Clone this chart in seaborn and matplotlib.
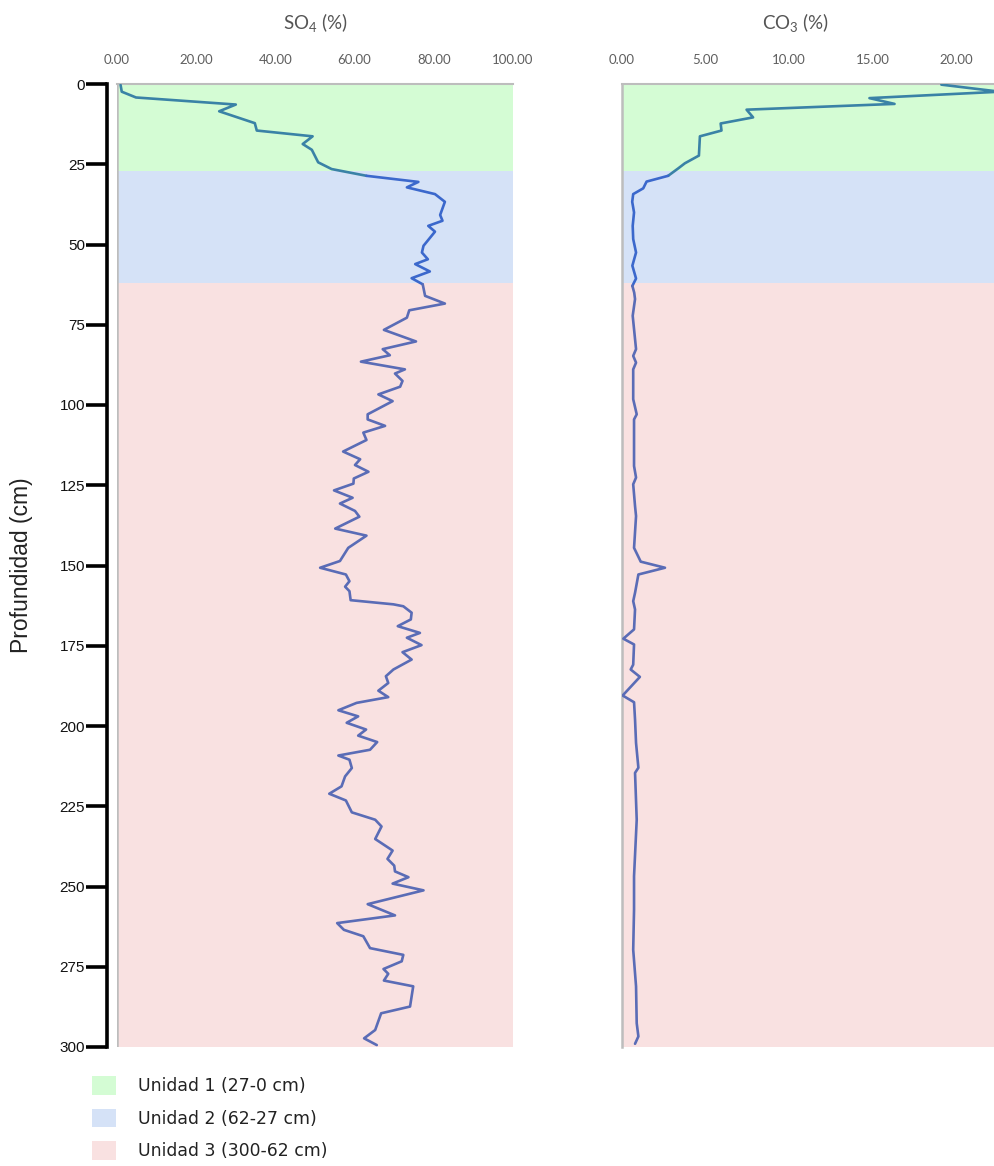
import numpy as np
import pandas as pd
import matplotlib
matplotlib.use("Agg")
import matplotlib.pyplot as plt
from matplotlib.patches import Patch
import seaborn as sns

# --- Sulfato (%) por profundidad (cm) ---
depth_so4 = [0.3, 2.4, 4.2, 6.4, 8.5, 12.2, 14.5, 16.3, 18.7, 20.5,
             24.4, 26.5, 28.6, 30.5, 32.2, 34.3, 36.7, 40.8, 42.6, 44.2,
             46.0, 50.4, 52.5, 54.6, 56.1, 58.4, 60.5, 62.4, 66.0, 68.4,
             70.5, 72.8, 76.6, 80.2, 82.6, 84.5, 86.5, 88.9, 90.2, 92.5,
             94.3, 96.7, 98.8, 102.9, 104.5, 106.5, 108.6, 110.9, 114.5, 116.9,
             118.7, 120.8, 122.9, 124.5, 126.6, 128.9, 130.7, 133.0, 134.8, 138.5,
             140.7, 144.5, 148.6, 150.7, 152.8, 154.9, 156.6, 158.0, 160.8, 162.1,
             162.7, 164.7, 166.8, 168.9, 171.0, 172.5, 174.8, 177.0, 179.3, 182.4,
             184.5, 186.6, 189.0, 191.0, 192.8, 195.1, 197.0, 199.0, 201.1, 203.0,
             205.0, 207.4, 209.2, 210.5, 213.1, 215.7, 218.8, 221.1, 223.2, 226.9,
             229.2, 231.3, 235.2, 238.8, 241.4, 243.5, 245.3, 247.1, 249.1, 251.2,
             255.5, 259.0, 261.4, 263.5, 265.5, 269.2, 271.3, 273.3, 275.7, 277.2,
             279.3, 281.1, 287.4, 289.5, 294.7, 297.3, 299.4]
so4 = [0.9, 1.2, 4.8, 30.0, 25.8, 34.8, 35.3, 49.4, 46.9, 49.2,
       50.8, 54.2, 63.0, 76.1, 73.2, 80.3, 82.8, 81.6, 82.2, 78.6,
       80.3, 77.4, 77.0, 78.5, 75.3, 79.0, 74.4, 77.2, 77.8, 82.8,
       73.8, 73.2, 67.4, 75.5, 67.1, 68.9, 61.6, 72.7, 70.2, 72.1,
       71.5, 66.0, 69.6, 63.3, 63.3, 67.7, 62.2, 63.0, 57.1, 61.4,
       60.1, 63.5, 59.8, 59.7, 54.8, 59.5, 56.3, 60.1, 61.2, 55.1,
       63.0, 58.4, 56.3, 51.3, 57.8, 58.7, 57.6, 58.7, 59.0, 69.8,
       72.3, 74.4, 74.2, 70.9, 76.5, 73.2, 76.9, 72.1, 74.4, 69.8,
       67.9, 68.5, 66.0, 68.5, 60.5, 55.9, 60.9, 58.0, 62.9, 60.9,
       65.7, 63.9, 55.9, 58.7, 59.3, 57.6, 56.7, 53.6, 57.8, 59.3,
       65.2, 66.8, 65.2, 69.6, 68.3, 70.0, 70.2, 73.6, 69.6, 77.4,
       63.3, 70.2, 55.6, 57.3, 62.2, 63.9, 72.3, 71.9, 67.3, 68.5,
       67.4, 74.8, 74.0, 66.7, 65.2, 62.4, 65.6]

# --- Carbonato (%) por profundidad (cm) ---
depth_co3 = [0.2, 2.4, 4.4, 6.2, 8.0, 10.4, 12.3, 14.5, 16.3, 22.3,
             24.7, 26.3, 28.6, 30.4, 32.5, 34.3, 36.7, 40.0, 44.2, 48.3,
             52.5, 56.6, 60.6, 62.9, 65.0, 67.0, 72.2, 82.6, 84.7, 86.8,
             88.9, 98.2, 102.9, 104.5, 119.0, 122.6, 124.7, 131.5, 134.6, 144.5,
             148.8, 150.7, 152.8, 158.5, 161.1, 163.7, 169.9, 172.8, 174.6, 180.9,
             182.4, 184.7, 190.5, 192.6, 198.0, 205.3, 213.0, 214.6, 229.2, 246.8,
             257.2, 269.7, 281.1, 292.6, 296.7, 299.0]
co3 = [19.1, 22.6, 14.8, 16.3, 7.45, 7.84, 5.9, 5.95, 4.66, 4.6,
       3.76, 3.36, 2.76, 1.47, 1.27, 0.67, 0.61, 0.72, 0.64, 0.67,
       0.84, 0.62, 0.84, 0.62, 0.73, 0.78, 0.64, 0.84, 0.67, 0.84,
       0.67, 0.67, 0.88, 0.72, 0.72, 0.84, 0.67, 0.78, 0.84, 0.72,
       1.12, 2.57, 0.98, 0.78, 0.67, 0.78, 0.72, 0.08, 0.72, 0.67,
       0.52, 1.07, 0.04, 0.72, 0.78, 0.84, 0.98, 0.78, 0.88, 0.72,
       0.72, 0.67, 0.84, 0.88, 0.98, 0.78]

# --- Unidades estratigráficas ---
unit_names = ["Unidad 1 (27-0 cm)", "Unidad 2 (62-27 cm)", "Unidad 3 (300-62 cm)"]
unit_tops = [0, 27, 62]
unit_bottoms = [27, 62, 300]
unit_fill = ["#d4fcd4", "#d5e2f7", "#f9e1e1"]
unit_line = ["#3a82a6", "#3b68cc", "#5a6cb6"]

so4_ticks = [0, 20, 40, 60, 80, 100]
co3_ticks = [0, 5, 10, 15, 20]
depth_ticks = list(range(0, 301, 25))


def unit_of(d):
    for i, (t, b) in enumerate(zip(unit_tops, unit_bottoms)):
        if t <= d < b:
            return i
    return len(unit_tops) - 1


def segments(depths, values):
    """Long table with one continuous piece per unit; each piece carries the
    first sample of the next unit so the profile stays connected."""
    u = [unit_of(d) for d in depths]
    rows = []
    for k in range(len(unit_names)):
        idx = [i for i, v in enumerate(u) if v == k]
        if not idx:
            continue
        if idx[-1] + 1 < len(depths):
            idx = idx + [idx[-1] + 1]
        for order, i in enumerate(idx):
            rows.append({"unidad": unit_names[k], "orden": order,
                         "prof": depths[i], "valor": values[i]})
    return pd.DataFrame(rows)


sns.set_theme(style="white")
plt.rcParams["font.family"] = ["Liberation Sans", "DejaVu Sans"]
plt.rcParams["mathtext.fontset"] = "custom"
plt.rcParams["mathtext.rm"] = "Lato"
plt.rcParams["mathtext.it"] = "Lato:italic"
plt.rcParams["mathtext.bf"] = "Lato:bold"

W, H = 995, 1166
fig = plt.figure(figsize=(W / 100, H / 100), dpi=100)
fig.patch.set_facecolor("white")

top_px, bot_px = 84, 1047
ax1 = fig.add_axes([117 / W, 1 - bot_px / H, 396 / W, (bot_px - top_px) / H])
ax2 = fig.add_axes([622 / W, 1 - bot_px / H, 418 / W, (bot_px - top_px) / H])

palette = dict(zip(unit_names, unit_line))
for ax, d, v, xmax, ticks in [(ax1, depth_so4, so4, 100, so4_ticks),
                              (ax2, depth_co3, co3, 25, co3_ticks)]:
    for t, b, c in zip(unit_tops, unit_bottoms, unit_fill):
        ax.axhspan(t, b, xmin=0, xmax=1, color=c, lw=0, zorder=0)
    df = segments(d, v)
    sns.lineplot(data=df, x="valor", y="prof", hue="unidad", units="unidad",
                 estimator=None, sort=False, orient="y", palette=palette,
                 linewidth=1.9, legend=False, ax=ax, zorder=3)
    ax.set_xlim(0, xmax)
    ax.set_ylim(300, 0)
    ax.set_xticks(ticks)
    ax.set_xticklabels([f"{t:.2f}" for t in ticks], family="Lato",
                       color="#5f5f5f", fontsize=9.5)
    ax.xaxis.tick_top()
    ax.tick_params(axis="x", length=0, pad=13)
    ax.set_xlabel("")
    ax.set_ylabel("")
    ax.set_facecolor("none")
    for s in ["right", "bottom"]:
        ax.spines[s].set_visible(False)
    ax.spines["top"].set_color("#bdbdbd")
    ax.spines["top"].set_linewidth(1.5)

# Depth axis on the first panel: thick black spine pushed outward
ax1.axvline(0, color="#bdbdbd", lw=1.8, zorder=4)
ax1.spines["left"].set_position(("outward", 7))
ax1.spines["left"].set_color("black")
ax1.spines["left"].set_linewidth(2.6)
ax1.set_yticks(depth_ticks)
ax1.set_yticklabels([str(t) for t in depth_ticks], fontsize=11, color="#111111")
ax1.tick_params(axis="y", left=True, length=15, width=2.6, color="black", pad=1)
ax1.set_ylabel("Profundidad (cm)", fontsize=16.5, color="#222222")
ax1.yaxis.set_label_coords((33 - 117) / 396, 0.5)

ax2.spines["left"].set_color("#bdbdbd")
ax2.spines["left"].set_linewidth(1.8)
ax2.set_yticks([])

fig.text(315 / W, 1 - 22 / H, "SO$_4$ (%)", ha="center", va="center",
         fontsize=13.5, color="#555555", family="Lato")
fig.text(795 / W, 1 - 22 / H, "CO$_3$ (%)", ha="center", va="center",
         fontsize=13.5, color="#555555", family="Lato")

handles = [Patch(facecolor=c, edgecolor="none", label=n)
           for c, n in zip(unit_fill, unit_names)]
fig.legend(handles=handles, loc="upper left", bbox_to_anchor=(92 / W, 1 - 1076 / H),
           frameon=False, prop={"family": "DejaVu Sans", "size": 12.4},
           handlelength=1.4, handleheight=1.3, handletextpad=1.3,
           labelspacing=0.78, borderaxespad=0, borderpad=0, labelcolor="#222222")

fig.savefig("out.png", dpi=100)
